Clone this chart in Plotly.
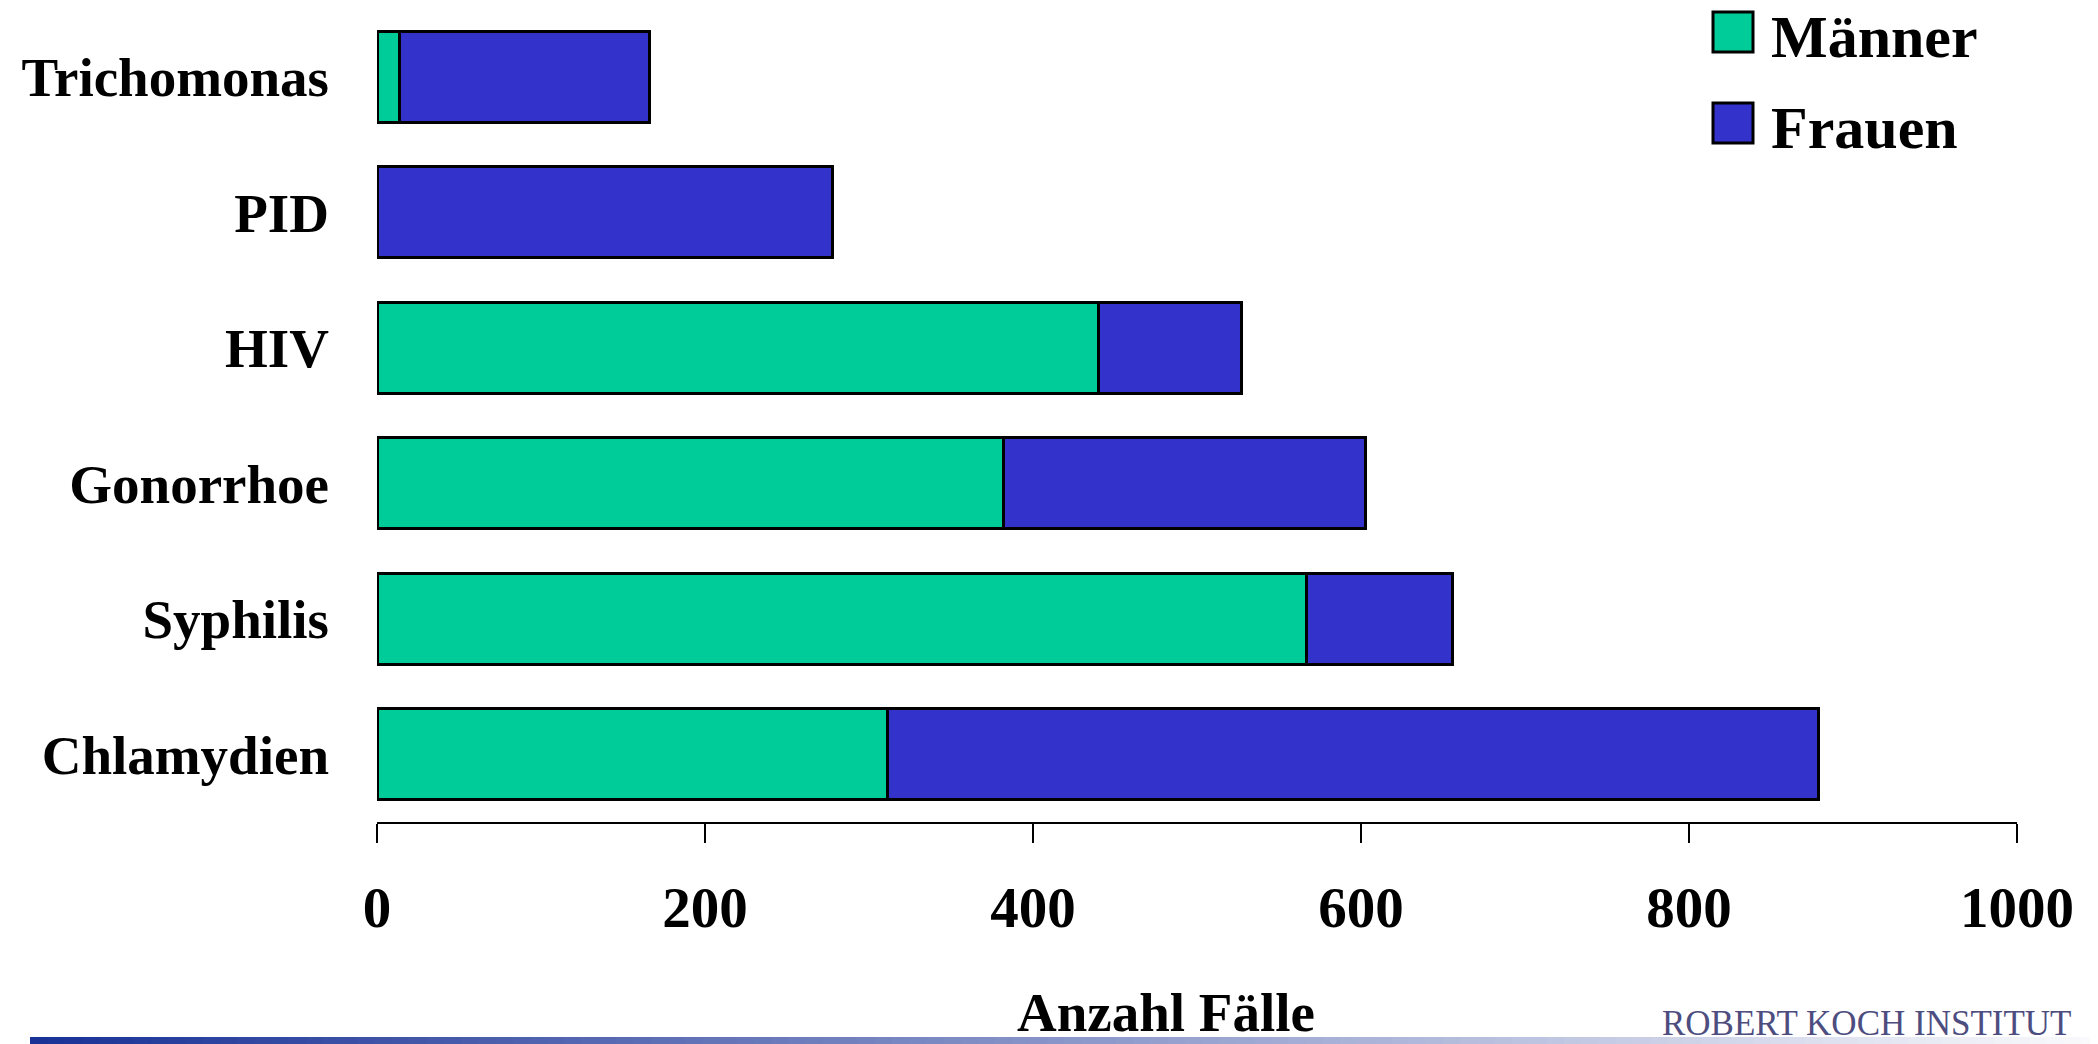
import plotly.graph_objects as go

categories = ["Chlamydien", "Syphilis", "Gonorrhoe", "HIV", "PID", "Trichomonas"]
maenner = [311, 567, 382, 440, 0, 14]
frauen = [568, 89, 221, 87, 278, 152]
x_ticks = [0, 200, 400, 600, 800, 1000]
series_names = ["Männer", "Frauen"]

GREEN = "#00CC99"
BLUE = "#3333CC"
FONT = "Liberation Serif"

OFF = 8  # default page body margin
W, H = 2098 - OFF, 1044 - OFF
L = 377 - OFF
T = 9 - OFF
PLOT_BOTTOM = 822 - OFF
PLOT_RIGHT = 2017 - OFF
R = W - PLOT_RIGHT
B = H - PLOT_BOTTOM
PW, PH = W - L - R, H - T - B


def px_x(px):  # px in reference (window) coordinates
    return (px - OFF - L) / PW


def px_y(py):
    return (PLOT_BOTTOM - (py - OFF)) / PH


fig = go.Figure()
for name, vals, col in [(series_names[0], maenner, GREEN), (series_names[1], frauen, BLUE)]:
    fig.add_trace(go.Bar(
        y=categories, x=vals, name=name, orientation="h",
        marker=dict(color=col, line=dict(color="black", width=3)),
        showlegend=False,
    ))

shapes = []
annotations = []

# custom legend
leg = [(series_names[0], GREEN, 12, 52), (series_names[1], BLUE, 103, 143)]
for name, col, y0, y1 in leg:
    shapes.append(dict(type="rect", xref="paper", yref="paper",
                       x0=px_x(1713), x1=px_x(1753), y0=px_y(y1), y1=px_y(y0),
                       fillcolor=col, line=dict(color="black", width=3)))
    annotations.append(dict(text="<b>%s</b>" % name, xref="paper", yref="paper",
                            x=px_x(1769), y=px_y((y0 + y1) / 2 + 5), xanchor="left", yanchor="middle",
                            showarrow=False, font=dict(family=FONT, size=60, color="black")))

# axis title
annotations.append(dict(text="<b>Anzahl Fälle</b>", xref="paper", yref="paper",
                        x=px_x(1166), y=px_y(1045), xanchor="center", yanchor="bottom",
                        showarrow=False, font=dict(family=FONT, size=55, color="black")))

# footer gradient band
n = 120
x_start, x_end = 30, 2098
c0 = (25, 50, 150)
c1 = (250, 250, 252)
for i in range(n):
    t = i / (n - 1)
    c = tuple(int(round(c0[k] + (c1[k] - c0[k]) * t)) for k in range(3))
    xa = x_start + (x_end - x_start) * i / n
    xb = x_start + (x_end - x_start) * (i + 1) / n + 1
    shapes.append(dict(type="rect", xref="paper", yref="paper",
                       x0=px_x(xa), x1=px_x(xb), y0=px_y(1044), y1=px_y(1037),
                       fillcolor="rgb(%d,%d,%d)" % c, line=dict(width=0), layer="below"))

annotations.append(dict(text="ROBERT KOCH INSTITUT", xref="paper", yref="paper",
                        x=px_x(2073), y=px_y(1045), xanchor="right", yanchor="bottom",
                        showarrow=False,
                        font=dict(family=FONT, size=35, color="#4d4d80")))

fig.update_layout(
    barmode="stack",
    bargap=0.33,
    width=W, height=H,
    margin=dict(l=L, r=R, t=T, b=B, pad=0),
    plot_bgcolor="white", paper_bgcolor="white",
    shapes=shapes, annotations=annotations,
    showlegend=False,
    xaxis=dict(range=[0, 1000], tickvals=x_ticks, ticktext=["<b>%d</b>" % v for v in x_ticks],
               showgrid=False, zeroline=False, showline=True, linecolor="black", linewidth=2,
               ticks="outside", ticklen=19, tickwidth=2, tickcolor="black",
               tickfont=dict(family=FONT, size=57, color="black"),
               ticklabelstandoff=16),
    yaxis=dict(range=[-0.5, 5.5], categoryorder="array", categoryarray=categories,
               tickvals=categories, ticktext=["<b>%s</b>" % c for c in categories],
               showgrid=False, zeroline=False, showline=False, ticks="",
               tickfont=dict(family=FONT, size=55, color="black"),
               ticklabelstandoff=47),
)

fig.write_html("out.html")
